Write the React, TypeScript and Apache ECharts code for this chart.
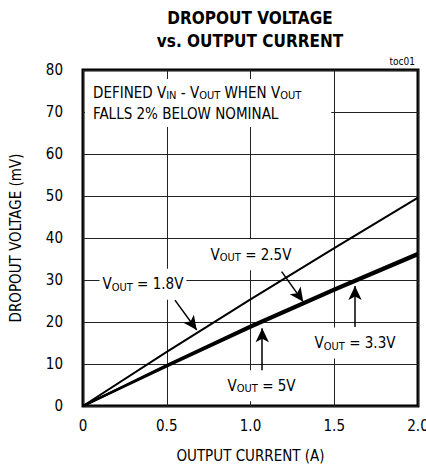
import React, { useEffect, useRef } from "react";
import * as echarts from "echarts";

const currents = [0, 0.5, 1.0, 1.5, 2.0];
const v18 = [0, 12.9, 25.4, 37.6, 49.6];
const v25 = [0, 9.8, 19.2, 28.0, 36.5];
const v33 = [0, 9.6, 18.9, 27.7, 36.2];
const v50 = [0, 9.4, 18.6, 27.4, 35.9];
const xTicks = ["0", "0.5", "1.0", "1.5", "2.0"];

// arrows: [startI, startV, tipI, tipV]
const arrows = [
  [0.549, 25.2, 0.679, 18.1],
  [1.186, 32.0, 1.315, 24.8],
  [1.624, 18.8, 1.624, 28.6],
  [1.07, 8.1, 1.07, 18.5],
];
// labels: [I, V, text]
const labels: [number, number, string][] = [
  [0.358, 29.0, "1.8V"],
  [1.003, 36.0, "2.5V"],
  [1.624, 15.0, "3.3V"],
  [1.066, 4.8, "5V"],
];

const FONT = "'Liberation Sans Narrow', 'DejaVu Sans Condensed', 'Roboto', sans-serif";

export default function App() {
  const ref = useRef<HTMLDivElement>(null);
  useEffect(() => {
    if (!ref.current) return;
    const chart = echarts.init(ref.current, undefined, { renderer: "svg" });
    const mk = (vals: number[]) => currents.map((c, i) => [c, vals[i]]);
    const rich = {
      a: { fontSize: 15, fontFamily: FONT, color: "#000", lineHeight: 21 },
      s: { fontSize: 11, fontFamily: FONT, color: "#000", lineHeight: 11, padding: [6, 0, 0, 0] },
    };
    const lineSeries = (name: string, vals: number[], width: number, extra: any = {}) => ({
      type: "line",
      name,
      data: mk(vals),
      showSymbol: false,
      symbol: "none",
      lineStyle: { color: "#000", width },
      z: 3,
      ...extra,
    });
    chart.setOption({
      animation: false,
      grid: {
        left: 83,
        right: 8,
        top: 70,
        bottom: 64,
        show: true,
        borderColor: "#000",
        borderWidth: 3,
        containLabel: false,
        outerBoundsMode: "none",
      },
      xAxis: {
        type: "value",
        min: 0,
        max: 2,
        interval: 0.5,
        name: "OUTPUT CURRENT (A)",
        nameLocation: "middle",
        nameGap: 42,
        nameTextStyle: { fontSize: 15, fontFamily: FONT, color: "#000" },
        axisLine: { show: false },
        axisTick: { show: false },
        axisLabel: {
          fontSize: 15,
          fontFamily: FONT,
          color: "#000",
          margin: 12,
          formatter: (v: number) => xTicks[Math.round(v / 0.5)],
        },
        splitLine: { show: true, lineStyle: { color: "#222", width: 1 } },
      },
      yAxis: {
        type: "value",
        min: 0,
        max: 80,
        interval: 10,
        name: "DROPOUT VOLTAGE (mV)",
        nameLocation: "middle",
        nameGap: 60,
        nameRotate: 90,
        nameTextStyle: { fontSize: 15, fontFamily: FONT, color: "#000" },
        axisLine: { show: false },
        axisTick: { show: false },
        axisLabel: { fontSize: 15, fontFamily: FONT, color: "#000", margin: 20 },
        splitLine: { show: true, lineStyle: { color: "#222", width: 1 } },
      },
      series: [
        lineSeries("1.8V", v18, 2, {
          markLine: {
            silent: true,
            symbol: ["none", "arrow"],
            symbolSize: [10, 14],
            label: { show: false },
            lineStyle: { color: "#000", width: 1.5, type: "solid" },
            data: arrows.map((a) => [
              { coord: [a[0], a[1]] },
              { coord: [a[2], a[3]] },
            ]),
          },
          markPoint: {
            silent: true,
            symbol: "circle",
            symbolSize: 0,
            data: labels.map((l) => ({
              coord: [l[0], l[1]],
              label: {
                show: true,
                position: "inside",
                formatter: `{a|V}{s|OUT}{a| = ${l[2]}}`,
                rich,
                backgroundColor: "#fff",
                padding: [5, 3, 5, 3],
              },
            })),
            z: 5,
          },
        }),
        lineSeries("2.5V", v25, 2),
        lineSeries("3.3V", v33, 2),
        lineSeries("5V", v50, 2),
      ],
      graphic: [
        {
          type: "text",
          x: 250,
          y: 6,
          style: {
            text: "DROPOUT VOLTAGE\nvs. OUTPUT CURRENT",
            fontFamily: "'DejaVu Sans Condensed', sans-serif",
            fontWeight: "bold",
            fontSize: 17,
            lineHeight: 23,
            fill: "#000",
            align: "center",
          },
        },
        {
          type: "text",
          x: 415,
          y: 56,
          style: {
            text: "toc01",
            fontFamily: FONT,
            fontSize: 10,
            fill: "#000",
            align: "right",
          },
        },
        {
          type: "text",
          x: 85,
          y: 79,
          z: 10,
          style: {
            text: "{a|DEFINED V}{s|IN}{a| - V}{s|OUT}{a| WHEN V}{s|OUT}\n{a|FALLS 2% BELOW NOMINAL}",
            rich,
            backgroundColor: "#fff",
            padding: [3, 30, 3, 8],
          },
        },
      ],
    });
    return () => chart.dispose();
  }, []);
  return (
    <div
      ref={ref}
      style={{ position: "fixed", left: 0, top: 0, width: 426, height: 470, background: "#fff" }}
    />
  );
}
